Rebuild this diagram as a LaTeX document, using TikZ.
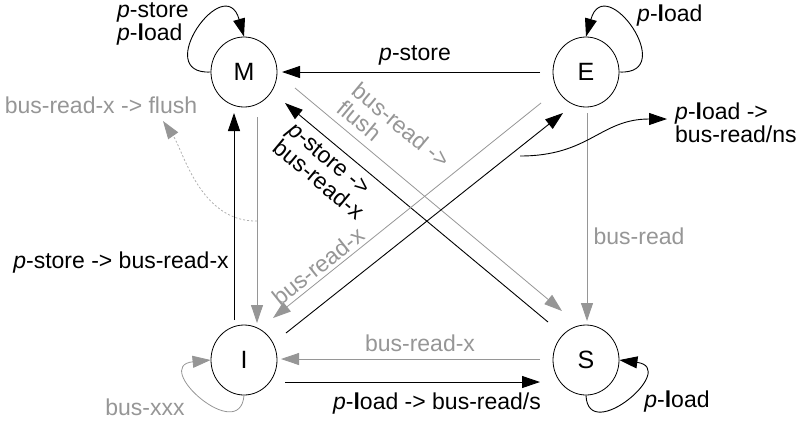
\documentclass[tikz,border=0pt]{standalone}
\usepackage{fontspec}
\setmainfont{Liberation Sans}
\usetikzlibrary{arrows.meta,shapes.geometric}
\definecolor{busgray}{RGB}{150,150,150}
\definecolor{dotgray}{RGB}{175,175,175}
\newcommand{\pl}{\textit{p}-\textbf{l}oad}
\newcommand{\ps}{\textit{p}-store}
\begin{document}
\begin{tikzpicture}[x=1pt,y=-1pt,
  state/.style={draw,ellipse,minimum width=66pt,minimum height=70pt,inner sep=0pt,
    line width=0.8pt,font=\fontsize{25}{25}\selectfont},
  lbl/.style={inner sep=0pt,font=\fontsize{23}{23}\selectfont},
  tip/.style={-{Triangle[length=18pt,width=12pt]}},
  proc/.style={tip,line width=0.9pt},
  bus/.style={tip,busgray,line width=0.8pt},
  note/.style={dotgray,line width=0.8pt,dash pattern=on 2pt off 2pt,
    -{Triangle[length=18pt,width=12pt,color=busgray,fill=busgray]}},
]
\useasboundingbox (0,0) rectangle (805,424);

% states
\node[state] (M) at (244,72) {M};
\node[state] (E) at (586,72) {E};
\node[state] (I) at (244,360) {I};
\node[state] (S) at (586,360) {S};

% labels
\node[lbl,anchor=west,align=left] (mloopl) at (117,24) {\ps\\\pl};
\node[lbl] (emlbl) at (415,55) {\ps};
\node[lbl,anchor=west] (eloopl) at (637,16) {\pl};
\node[lbl,anchor=west,align=left] (nslbl) at (675,123) {\pl\ ->\\bus-read/ns};
\node[lbl,busgray] (flushlbl) at (101,105) {bus-read-x -> flush};
\node[lbl] (imlbl) at (121,263) {\ps\ -> bus-read-x};
\node[lbl,busgray] (eslbl) at (639,236) {bus-read};
\node[lbl,busgray] (silbl) at (420,343) {bus-read-x};
\node[lbl] (islbl) at (437,404) {\pl\ -> bus-read/s};
\node[lbl] (sloopl) at (677,402) {\pl};
\node[lbl,busgray] (iloopl) at (145,407) {bus-xxx};
\node[lbl,busgray,rotate=-39.8,align=left] (mslbl) at (394,134) {bus-read ->\\flush};
\node[lbl,rotate=-39.8,align=left] (smlbl) at (326,171) {\ps\ ->\\bus-read-x};
\node[lbl,busgray,rotate=38.7] (eilbl) at (318,266) {bus-read-x};

% straight transitions
\draw[proc] ([shift={(-46,0)}]E.center) -- ([shift={(38,0)}]M.center);
\draw[proc] ([shift={(-10,-40)}]I.center) -- ([shift={(-10,41)}]M.center);
\draw[bus]  ([shift={(13,45)}]M.center) -- ([shift={(13,-37)}]I.center);
\draw[bus]  ([shift={(1,41)}]E.center) -- ([shift={(1,-39)}]S.center);
\draw[bus]  ([shift={(-46,-1)}]S.center) -- ([shift={(37,-1)}]I.center);
\draw[proc] ([shift={(41,22)}]I.center) -- ([shift={(-46,22)}]S.center);
\draw[bus]  ([shift={(51,16)}]M.center) -- ([shift={(-24,-49)}]S.center);
\draw[proc] ([shift={(-38,-38)}]S.center) -- ([shift={(41,31)}]M.center);
\draw[proc] ([shift={(42,-27)}]I.center) -- ([shift={(-23,41)}]E.center);
\draw[bus]  ([shift={(-45,31)}]E.center) -- ([shift={(29,-42)}]I.center);

% self loops
\draw[proc] (M.west) .. controls +(-60,3) and +(-19,-67) .. (M.north);
\draw[proc] (E.east) .. controls +(60,3) and +(19,-67) .. (E.north);
\draw[proc] (S.south) .. controls +(2,50) and +(60,8) .. (S.east);
\draw[bus]  (I.south) .. controls +(-4,50) and +(-60,6) .. (I.west);

% annotation arrows
\coordinate (tap) at (257,221);
\coordinate (flushtip) at (163,121);
\draw[note] (tap) .. controls (200,222) and (183,150) .. (flushtip);
\coordinate (nsstart) at (520,156);
\coordinate (nstip) at (667,119);
\draw[proc] (nsstart) .. controls (590,156) and (600,119) .. (nstip);
\end{tikzpicture}
\end{document}
